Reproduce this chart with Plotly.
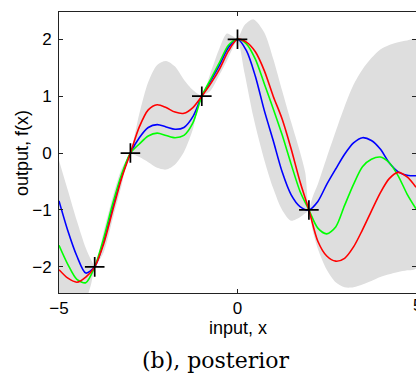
import plotly.graph_objects as go

# Training observations
obs_x = [-4, -3, -1, 0, 2]
obs_y = [-2, 0, 1, 2, -1]

# Three functions drawn from the posterior, sampled on a common grid
sample_x = [-5, -4.75, -4.5, -4.25, -4, -3.75, -3.5, -3.25, -3, -2.75, -2.5,
            -2.25, -2, -1.75, -1.5, -1.25, -1, -0.75, -0.5, -0.25, 0, 0.25,
            0.5, 0.75, 1, 1.25, 1.5, 1.75, 2, 2.25, 2.5, 2.75, 3, 3.25, 3.5,
            3.75, 4, 4.25, 4.5, 4.75, 5]
red_f = [-2.05, -2.2, -2.27, -2.18, -2.0, -1.6, -1.02, -0.45, 0.0, 0.46, 0.76,
         0.85, 0.8, 0.72, 0.7, 0.8, 1.0, 1.22, 1.48, 1.8, 2.0, 1.95,
         1.78, 1.45, 1.0, 0.6, 0.08, -0.5, -1.0, -1.55, -1.81, -1.9, -1.85, -1.65, -1.35,
         -1.02, -0.7, -0.45, -0.34, -0.42, -0.6]
green_f = [-1.62, -1.96, -2.22, -2.28, -2.0, -1.5, -0.9, -0.38, 0.0, 0.16, 0.3,
           0.35, 0.31, 0.27, 0.31, 0.53, 1.0, 1.3, 1.6, 1.9, 2.0, 1.92,
           1.65, 1.22, 0.78, 0.32, -0.19, -0.67, -1.0, -1.32, -1.42, -1.3, -0.92, -0.55, -0.24,
           -0.11, -0.07, -0.17, -0.4, -0.72, -0.98]
blue_f = [-0.84, -1.37, -1.81, -2.11, -2.0, -1.55, -0.96, -0.42, 0.0, 0.27, 0.45,
          0.5, 0.46, 0.42, 0.45, 0.64, 1.0, 1.27, 1.55, 1.86, 2.0, 1.8,
          1.35, 0.75, 0.22, -0.33, -0.73, -0.94, -1.0, -0.85, -0.55, -0.28, -0.02, 0.18, 0.27,
          0.22, 0.07, -0.17, -0.33, -0.39, -0.4]

# Posterior confidence band (mean +/- two standard deviations)
band_x = [-5, -4.75, -4.5, -4.25, -4.1, -4, -3.75, -3.5, -3.25, -3, -2.75, -2.5,
          -2.25, -2, -1.75, -1.5, -1.25, -1, -0.75, -0.5, -0.3, -0.15, 0, 0.2,
          0.45, 0.75, 1, 1.25, 1.5, 1.75, 1.9, 2, 2.1, 2.25, 2.5, 2.75, 3, 3.25,
          3.5, 3.75, 4, 4.25, 4.5, 4.75, 5]
band_upper = [-0.13, -0.66, -1.19, -1.67, -1.88, -1.98, -1.38, -0.78, -0.28, 0.02, 0.69, 1.25,
              1.55, 1.62, 1.52, 1.29, 1.11, 1.02, 1.42, 1.85, 2.1, 2.06, 2.02, 2.25,
              2.35, 2.12, 1.66, 1.1, 0.55, 0.02, -0.35, -0.98, -0.78, -0.55, -0.08, 0.38, 0.82, 1.2,
              1.47, 1.67, 1.82, 1.9, 1.95, 1.98, 2.0]
band_lower = [-3.6, -3.3, -2.95, -2.6, -2.3, -2.03, -1.75, -1.17, -0.58, -0.02, -0.07, -0.16,
              -0.26, -0.29, -0.2, 0.02, 0.42, 0.98, 1.1, 1.38, 1.62, 1.82, 1.98, 1.4,
              0.62, -0.12, -0.62, -1.0, -1.19, -1.13, -1.06, -1.02, -1.35, -1.68, -2.05, -2.27, -2.36, -2.36,
              -2.31, -2.25, -2.18, -2.13, -2.09, -2.06, -2.03]

x_ticks = [-5, 0]
x_tick_text = ["\u22125", "0"]
x_edge_label = "5"
y_ticks = [-2, -1, 0, 1, 2]
y_tick_text = ["\u22122", "\u22121", "0", "1", "2"]

sans = "Liberation Sans, Arial, sans-serif"

fig = go.Figure()

fig.add_trace(go.Scatter(
    x=band_x + band_x[::-1],
    y=band_upper + band_lower[::-1],
    fill="toself", fillcolor="#dedede",
    line=dict(width=0, shape="spline", smoothing=0.8),
    mode="lines", hoverinfo="skip", showlegend=False,
))

for ys, col in [(blue_f, "#0000ff"), (green_f, "#00ff00"), (red_f, "#ff0000")]:
    fig.add_trace(go.Scatter(
        x=sample_x, y=ys, mode="lines",
        line=dict(color=col, width=1.6, shape="spline", smoothing=0.8),
        showlegend=False,
    ))

fig.add_trace(go.Scatter(
    x=obs_x, y=obs_y, mode="markers", yaxis="y2",
    marker=dict(symbol="cross-thin", size=14, line=dict(color="black", width=1.7)),
    showlegend=False,
))

tick_font = dict(family=sans, size=17, color="black")
yrange = [-2.46, 2.48]

fig.update_layout(
    width=416, height=375,
    margin=dict(l=59, r=0, t=12, b=82),
    paper_bgcolor="white", plot_bgcolor="white",
    xaxis=dict(
        range=[-5, 5], tickvals=x_ticks + [5], ticktext=x_tick_text + [""],
        ticks="inside", ticklen=4, tickcolor="#222", tickwidth=1,
        showline=True, linecolor="#222", linewidth=1, mirror="ticks",
        showgrid=False, zeroline=False, tickfont=tick_font,
    ),
    yaxis=dict(
        range=yrange, tickvals=y_ticks, ticktext=y_tick_text,
        ticks="inside", ticklen=4, tickcolor="#222", tickwidth=1,
        showline=True, linecolor="#222", linewidth=1,
        showgrid=False, zeroline=False, tickfont=tick_font, ticklabelstandoff=3,
    ),
    yaxis2=dict(
        range=yrange, tickvals=y_ticks, overlaying="y", side="right",
        ticks="inside", ticklen=4, tickcolor="#222", tickwidth=1,
        showline=False, showticklabels=False, showgrid=False, zeroline=False,
    ),
    annotations=[
        # tick label for x = 5, which sits right at the page edge
        dict(text=x_edge_label, xref="paper", yref="paper", x=1.0045, y=-0.0035,
             xanchor="center", yanchor="top", showarrow=False, font=tick_font),
        dict(text="input, x", xref="paper", yref="paper", x=0.501, y=-0.124,
             xanchor="center", yanchor="middle", showarrow=False,
             font=dict(family=sans, size=18, color="black")),
        dict(text="output, f(x)", xref="paper", yref="paper", x=-0.1036, y=0.498,
             xanchor="center", yanchor="middle", showarrow=False, textangle=-90,
             font=dict(family=sans, size=18, color="black")),
        dict(text="(b), posterior", xref="paper", yref="paper", x=0.441, y=-0.24,
             xanchor="center", yanchor="middle", showarrow=False,
             font=dict(family="DejaVu Serif, serif", size=22, color="black")),
    ],
)

fig.write_html("out.html")
